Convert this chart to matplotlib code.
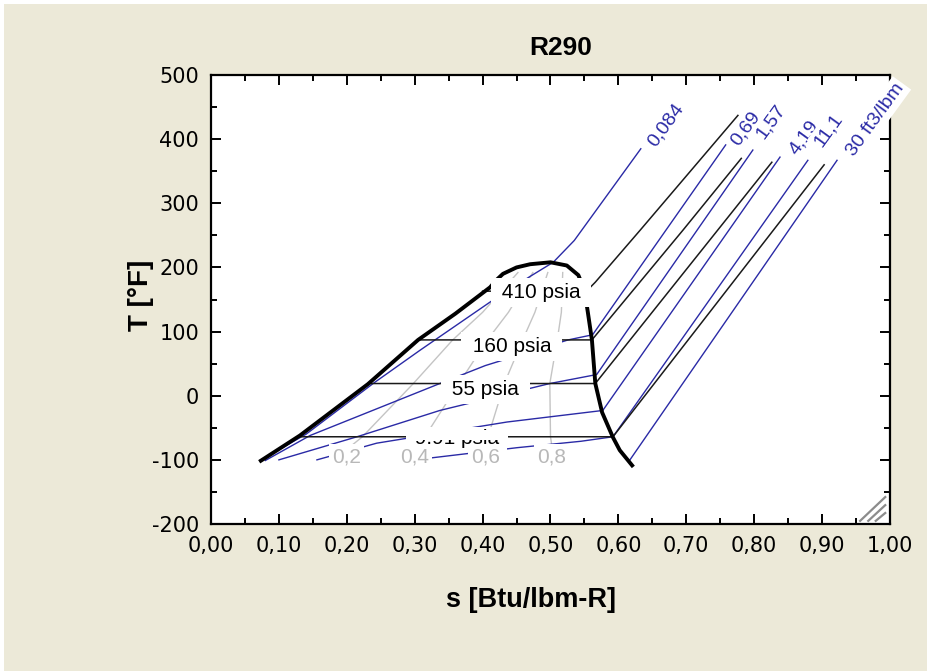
import matplotlib
matplotlib.use('Agg')
import matplotlib.pyplot as plt
from matplotlib.patches import Rectangle

# ---------------- data ----------------
# saturation dome (liquid line -> critical arc -> vapour line)
dome_s = [0.071, 0.131, 0.231, 0.305, 0.360, 0.411, 0.420, 0.430, 0.450, 0.470,
          0.500, 0.524, 0.541, 0.550, 0.555, 0.561, 0.566, 0.576, 0.592, 0.602, 0.622]
dome_T = [-103, -62, 18, 87, 128, 169, 180, 190, 200, 205,
          208, 203, 188, 165, 130, 87, 19, -26, -65, -85, -111]

# quality lines (x = 0.2 ... 0.8)
quality_names = ['0,2', '0,4', '0,6', '0,8']
quality_T = [-100, -64, 19, 87, 130, 192]
quality_s = [
    [0.181, 0.223, 0.298, 0.356, 0.400, 0.452],
    [0.291, 0.315, 0.365, 0.407, 0.438, 0.474],
    [0.400, 0.408, 0.432, 0.459, 0.477, 0.496],
    [0.505, 0.500, 0.499, 0.510, 0.516, 0.518],
]
quality_label_s = [0.200, 0.300, 0.404, 0.502]
quality_label_T = [-104, -104, -104, -104]

# isobars [psia]
isobar_names = ['410 psia', '160 psia', '55 psia', '9,91 psia']
isobar_s = [
    [0.400, 0.553, 0.566, 0.632, 0.776],
    [0.305, 0.561, 0.695, 0.781],
    [0.231, 0.566, 0.826],
    [0.131, 0.592, 0.903],
]
isobar_T = [
    [163, 163, 177, 258, 437],
    [87, 87, 258, 370],
    [19, 19, 364],
    [-64, -64, 360],
]
isobar_label_s = [0.486, 0.443, 0.404, 0.362]
isobar_label_T = [152, 68, 1, -76]

# isochores [ft3/lbm]
isochore_names = ['0,084', '0,69', '1,57', '4,19', '11,1', '30 ft3/lbm']
isochore_s = [
    [0.072, 0.140, 0.240, 0.308, 0.411, 0.470, 0.504, 0.535, 0.633],
    [0.080, 0.146, 0.337, 0.404, 0.526, 0.562, 0.758],
    [0.100, 0.215, 0.337, 0.499, 0.568, 0.798],
    [0.156, 0.244, 0.436, 0.577, 0.838],
    [0.300, 0.451, 0.545, 0.592, 0.879],
    [0.617, 0.922],
]
isochore_T = [
    [-101, -60, 20, 71, 146, 186, 208, 242, 385],
    [-101, -62, 19, 47, 87, 95, 391],
    [-100, -64, -23, 19, 33, 383],
    [-100, -74, -41, -23, 372],
    [-100, -81, -71, -64, 367],
    [-100, 367],
]
isochore_label_s = [0.670, 0.788, 0.825, 0.873, 0.909, 0.978]
isochore_label_T = [422, 417, 427, 403, 414, 430]

x_ticks = [0.0, 0.1, 0.2, 0.3, 0.4, 0.5, 0.6, 0.7, 0.8, 0.9, 1.0]
x_ticklabels = ['0,00', '0,10', '0,20', '0,30', '0,40', '0,50', '0,60', '0,70', '0,80', '0,90', '1,00']
y_ticks = [-200, -100, 0, 100, 200, 300, 400, 500]
y_ticklabels = ['-200', '-100', '0', '100', '200', '300', '400', '500']

# ---------------- styling ----------------
BG = '#ECE9D8'
BLUE = '#2a2aa6'
GRAY = '#c4c4c4'
LAB_FONT = ['Liberation Sans', 'DejaVu Sans']

fig = plt.figure(figsize=(9.28, 6.71), dpi=100, facecolor=BG)
# thin white window border (top / left)
fig.patches.append(Rectangle((0, 1 - 4 / 671), 1, 4 / 671, transform=fig.transFigure,
                             fc='white', ec='none', zorder=0))
fig.patches.append(Rectangle((0, 0), 4 / 928, 1, transform=fig.transFigure,
                             fc='white', ec='none', zorder=0))

ax = fig.add_axes([211 / 928, 1 - 524 / 671, (890 - 211) / 928, (524 - 75) / 671])
ax.set_facecolor('white')
ax.set_xlim(0, 1)
ax.set_ylim(-200, 500)

for sp in ax.spines.values():
    sp.set_linewidth(1.6)

ax.set_xticks(x_ticks)
ax.set_xticklabels(x_ticklabels)
ax.set_yticks(y_ticks)
ax.set_yticklabels(y_ticklabels)
ax.set_xticks([v + 0.05 for v in x_ticks[:-1]], minor=True)
ax.set_yticks([v + 50 for v in y_ticks[:-1]], minor=True)
ax.tick_params(which='both', direction='in', top=True, right=True, width=1.4)
ax.tick_params(which='major', length=7.5, labelsize=15, pad=8.5)
ax.tick_params(which='minor', length=4)
for lab in ax.get_xticklabels() + ax.get_yticklabels():
    lab.set_fontfamily('DejaVu Sans')

# quality lines
for qs in quality_s:
    ax.plot(qs, quality_T, color=GRAY, lw=1.0, zorder=1)

# isochores
for s_, T_ in zip(isochore_s, isochore_T):
    ax.plot(s_, T_, color=BLUE, lw=1.0, zorder=2)

# isobars
for s_, T_ in zip(isobar_s, isobar_T):
    ax.plot(s_, T_, color='#1a1a1a', lw=1.1, zorder=2.2)

# dome
ax.plot(dome_s, dome_T, color='black', lw=2.8, zorder=2.4, solid_capstyle='butt')

# isobar labels (white boxes break the lines)
for i, (name, s_, T_) in enumerate(zip(isobar_names, isobar_label_s, isobar_label_T)):
    pad = 0.25 if i < 3 else 0.12
    ax.text(s_, T_, ' ' + name + ' ', color='black', fontsize=15, family=LAB_FONT,
            ha='center', va='baseline',
            bbox=dict(boxstyle='square,pad=%g' % pad, fc='white', ec='none'), zorder=5)

# in the reference the upper half of the lowest isobar label is hidden
ax.add_patch(Rectangle((isobar_label_s[3] - 0.075, isobar_T[3][0] - 5), 0.15, 16,
                       fc='white', ec='none', zorder=5.5))

# quality labels
for name, s_, T_ in zip(quality_names, quality_label_s, quality_label_T):
    ax.text(s_, T_, name, color='#b8b8b8', fontsize=15, family=LAB_FONT,
            ha='center', va='baseline',
            bbox=dict(boxstyle='square,pad=0.15', fc='white', ec='none'), zorder=7)

# isochore labels
for name, s_, T_ in zip(isochore_names, isochore_label_s, isochore_label_T):
    ax.text(s_, T_, name, color=BLUE, fontsize=14, family=LAB_FONT,
            ha='center', va='center', rotation=54, rotation_mode='anchor',
            bbox=dict(boxstyle='square,pad=0.15', fc='white', ec='none'),
            zorder=5, clip_on=False)

# resize grip (window decoration, axes fractions)
grip = [((0.956, 0.007), (0.993, 0.060)),
        ((0.968, 0.007), (0.993, 0.042)),
        ((0.979, 0.007), (0.993, 0.0245))]
for (x0, y0), (x1, y1) in grip:
    ax.plot([x0, x1], [y0, y1], color='#8c8c8c', lw=1.6, transform=ax.transAxes, zorder=4)

fig.text(561 / 928, 1 - 48 / 671, 'R290', fontsize=19, fontweight='bold',
         family=LAB_FONT, ha='center', va='center')
fig.text(531 / 928, 1 - 600 / 671, 's [Btu/lbm-R]', fontsize=19.5, fontweight='bold',
         family=LAB_FONT, ha='center', va='center')
fig.text(141 / 928, 1 - 295 / 671, 'T [°F]', fontsize=20, fontweight='bold',
         family=LAB_FONT, ha='center', va='center', rotation=90)

fig.savefig('out.png', dpi=100, facecolor=BG)
